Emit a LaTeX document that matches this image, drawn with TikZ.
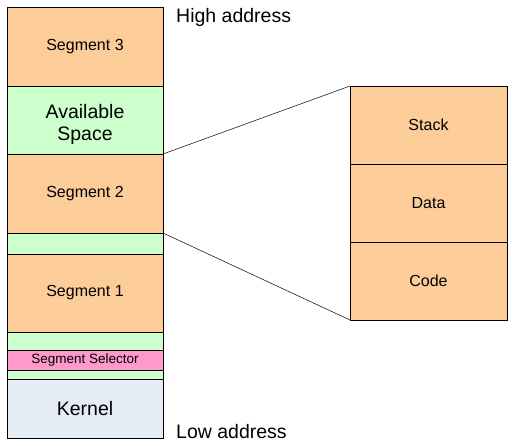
\documentclass[tikz,border=0pt]{standalone}
\usepackage{fontspec}
\setmainfont{Liberation Sans}
\usetikzlibrary{positioning}

\definecolor{segorange}{RGB}{252,204,153}
\definecolor{freegreen}{RGB}{204,255,204}
\definecolor{selpink}{RGB}{255,153,204}
\definecolor{kernelblue}{RGB}{230,236,245}

\tikzset{
  block/.style={draw,line width=0.8pt,inner sep=0pt,outer sep=0pt,
    minimum width=156pt,align=center,font=\fontsize{16}{19}\selectfont},
  seg/.style={block,fill=segorange},
  free/.style={block,fill=freegreen},
  bigtext/.style={font=\fontsize{19.5}{21.5}\selectfont},
}

\begin{document}
\begin{tikzpicture}[x=1pt,y=-1pt]
  \useasboundingbox (0,0) rectangle (514,446);

  % memory map
  \node [seg,minimum height=79pt,anchor=north] (seg3) at (85,7) {Segment 3};
  \node [free,bigtext,minimum height=68pt,below=0pt of seg3] (avail) {\rule{0pt}{23.5pt}Available\\Space};
  \node [seg,minimum height=79pt,below=0pt of avail] (seg2) {Segment 2};
  \node [free,minimum height=21pt,below=0pt of seg2] (gap2) {};
  \node [seg,minimum height=78pt,below=0pt of gap2] (seg1) {Segment 1};
  \node [free,minimum height=18pt,below=0pt of seg1] (gap1) {};
  \node [block,fill=selpink,minimum height=20pt,below=0pt of gap1,
    font=\fontsize{13.5}{16}\selectfont] (sel) {Segment Selector};
  \node [free,minimum height=9pt,below=0pt of sel] (gap0) {};
  \node [block,bigtext,fill=kernelblue,minimum height=59pt,below=0pt of gap0] (kernel) {Kernel};

  \node [bigtext,inner sep=0pt,anchor=base west] (high) at (176,23) {High address};
  \node [bigtext,inner sep=0pt,anchor=base west] (low) at (176,438) {Low address};

  % detail of segment 2
  \node [seg,minimum width=157pt,minimum height=78pt,anchor=north] (stack) at (428.5,86) {Stack};
  \node [seg,minimum width=157pt,minimum height=78pt,below=0pt of stack] (data) {Data};
  \node [seg,minimum width=157pt,minimum height=78pt,below=0pt of data] (code) {Code};

  \draw [line width=0.5pt] (seg2.north east) -- (stack.north west);
  \draw [line width=0.5pt] (seg2.south east) -- (code.south west);
\end{tikzpicture}
\end{document}
